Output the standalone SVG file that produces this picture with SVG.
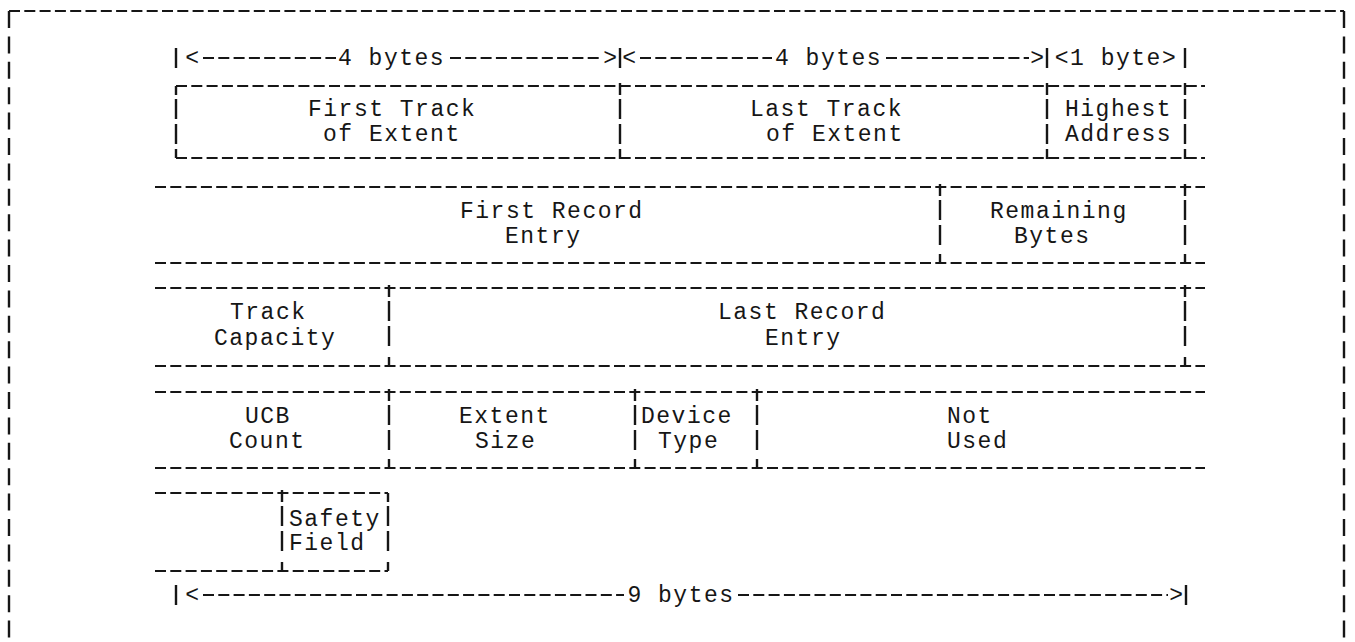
<svg xmlns="http://www.w3.org/2000/svg" width="1355" height="642" viewBox="0 0 1355 642">
<style>
.h{stroke:#161616;stroke-width:2.2;stroke-dasharray:11 4.3;fill:none}
.v{stroke:#161616;stroke-width:2.4;fill:none}
.fr{stroke:#161616;stroke-width:2.4;stroke-dasharray:17 8.4;fill:none}
text{font-family:"Liberation Mono","DejaVu Sans Mono",monospace;font-size:23px;letter-spacing:1.5px;fill:#161616}
.m{text-anchor:middle}
</style>
<rect width="1355" height="642" fill="#fff"/>
<g id="frame">
<line class="h" x1="9" y1="11" x2="1344" y2="11"/>
<line class="fr" x1="9" y1="11" x2="9" y2="642"/>
<line class="fr" x1="1344" y1="11" x2="1344" y2="642"/>
</g>
<g id="connectors">
<g id="dim-top">
<path class="v" d="M176 48V68M620 48V68M1047 48V68M1185 48V68"/>
<line class="h" x1="203" y1="58" x2="336" y2="58"/>
<line class="h" x1="450" y1="58" x2="603" y2="58"/>
<line class="h" x1="640" y1="58" x2="772" y2="58"/>
<line class="h" x1="886" y1="58" x2="1029" y2="58"/>
<text class="m" x="193" y="65">&lt;</text>
<text x="338" y="65">4 bytes</text>
<text class="m" x="611" y="65">&gt;</text>
<text class="m" x="630" y="65">&lt;</text>
<text x="775" y="65">4 bytes</text>
<text class="m" x="1038" y="65">&gt;</text>
<text class="m" x="1116" y="65">&lt;1 byte&gt;</text>
</g>
<g id="dim-bottom">
<path class="v" d="M176 585V605M1186 585V605"/>
<line class="h" x1="203" y1="595" x2="624" y2="595"/>
<line class="h" x1="738" y1="595" x2="1168" y2="595"/>
<text class="m" x="193" y="602">&lt;</text>
<text class="m" x="681" y="602">9 bytes</text>
<text class="m" x="1177" y="602">&gt;</text>
</g>
</g>
<g id="row1-lines">
<line class="h" x1="176" y1="86" x2="1205" y2="86"/>
<line class="h" x1="176" y1="158" x2="1205" y2="158"/>
<path class="v" d="M176 86V95M176 99V119M176 124V144M176 149V158"/>
<path class="v" d="M620 83V95M620 99V119M620 124V144M620 149V159"/>
<path class="v" d="M1047 83V95M1047 99V119M1047 124V144M1047 149V159"/>
<path class="v" d="M1185 83V95M1185 99V119M1185 124V144M1185 149V159"/>
</g>
<g id="first-track"><text x="308" y="116">First Track</text><text x="323" y="141">of Extent</text></g>
<g id="last-track"><text x="750" y="116">Last Track</text><text x="766" y="141">of Extent</text></g>
<g id="highest-address"><text x="1065" y="116">Highest</text><text x="1065" y="141">Address</text></g>
<g id="row2-lines">
<line class="h" x1="155" y1="187" x2="1205" y2="187"/>
<line class="h" x1="155" y1="263" x2="1205" y2="263"/>
<path class="v" d="M940 184V196M940 200V220M940 225V245M940 254V264"/>
<path class="v" d="M1185 184V196M1185 200V220M1185 225V245M1185 254V264"/>
</g>
<g id="first-record"><text x="460" y="218">First Record</text><text x="505" y="243">Entry</text></g>
<g id="remaining-bytes"><text x="990" y="218">Remaining</text><text x="1014" y="243">Bytes</text></g>
<g id="row3-lines">
<line class="h" x1="155" y1="288" x2="1205" y2="288"/>
<line class="h" x1="155" y1="366" x2="1205" y2="366"/>
<path class="v" d="M389 285V297M389 301V321M389 326V346M389 357V367"/>
<path class="v" d="M1185 285V297M1185 301V321M1185 326V346M1185 357V367"/>
</g>
<g id="track-capacity"><text x="230" y="319">Track</text><text x="214" y="345">Capacity</text></g>
<g id="last-record"><text x="718" y="319">Last Record</text><text x="765" y="345">Entry</text></g>
<g id="row4-lines">
<line class="h" x1="155" y1="392" x2="1205" y2="392"/>
<line class="h" x1="155" y1="468" x2="1205" y2="468"/>
<path class="v" d="M389 389V401M389 405V425M389 430V450M389 459V469"/>
<path class="v" d="M635 389V401M635 405V425M635 430V450M635 459V469"/>
<path class="v" d="M757 389V401M757 405V425M757 430V450M757 459V469"/>
</g>
<g id="ucb-count"><text x="245" y="423">UCB</text><text x="229" y="448">Count</text></g>
<g id="extent-size"><text x="459" y="423">Extent</text><text x="475" y="448">Size</text></g>
<g id="device-type"><text x="641" y="423">Device</text><text x="658" y="448">Type</text></g>
<g id="not-used"><text x="947" y="423">Not</text><text x="947" y="448">Used</text></g>
<g id="row5-lines">
<line class="h" x1="155" y1="493" x2="388" y2="493"/>
<line class="h" x1="155" y1="571" x2="388" y2="571"/>
<path class="v" d="M282 490V502M282 506V526M282 531V551M282 562V572"/>
<path class="v" d="M388 493V502M388 506V526M388 531V551M388 562V571"/>
</g>
<g id="safety-field"><text x="289" y="526">Safety</text><text x="289" y="550">Field</text></g>
</svg>
